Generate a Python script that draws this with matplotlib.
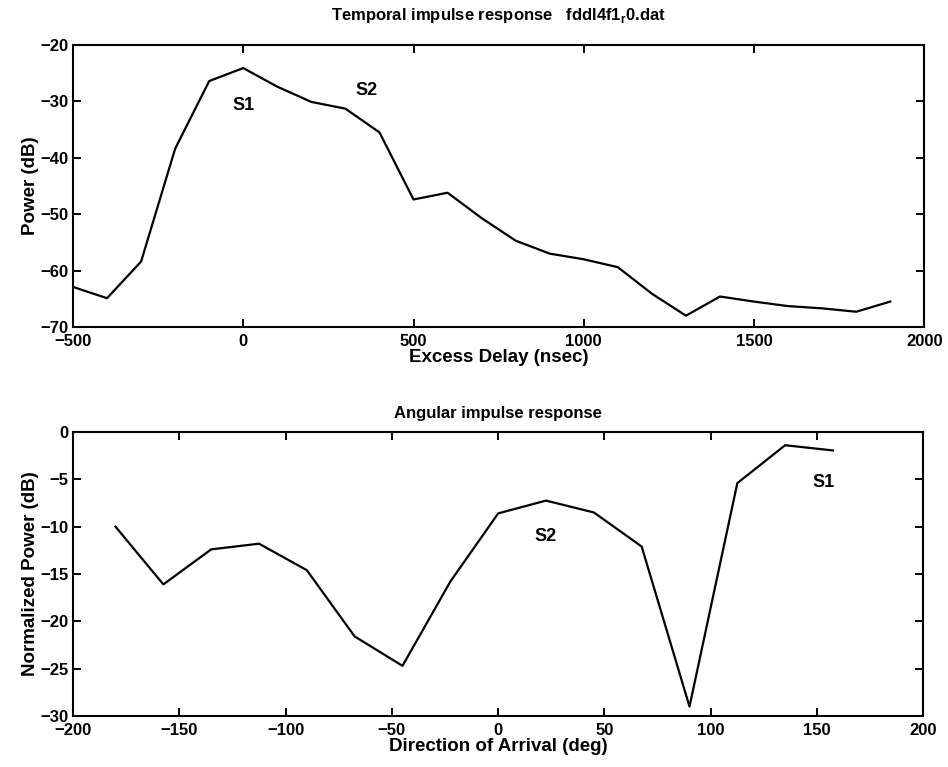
import numpy as np
import matplotlib
matplotlib.use('Agg')
import matplotlib.pyplot as plt

plt.rcParams['font.family'] = ['Liberation Sans', 'DejaVu Sans']
plt.rcParams['font.weight'] = 'bold'
plt.rcParams['font.size'] = 12

#### temporal impulse response
delay_ns = [-500, -400, -300, -200, -100, 0, 100, 200, 300, 400, 500, 600, 700,
            800, 900, 1000, 1100, 1200, 1300, 1400, 1500, 1600, 1700, 1800, 1900]
power_db = [-62.9, -64.9, -58.4, -38.4, -26.4, -24.1, -27.4, -30.1, -31.3, -35.5,
            -47.4, -46.2, -50.7, -54.7, -57.0, -58.0, -59.4, -64.1, -68.0, -64.6,
            -65.5, -66.3, -66.7, -67.3, -65.5]

#### angular impulse response
angle_deg = [-180, -157.5, -135, -112.5, -90, -67.5, -45, -22.5, 0, 22.5, 45,
             67.5, 90, 112.5, 135, 157.5]
norm_power_db = [-10.0, -16.1, -12.4, -11.8, -14.6, -21.6, -24.7, -15.8, -8.6,
                 -7.25, -8.5, -12.1, -29.0, -5.4, -1.4, -1.95]

top_xticks = [-500, 0, 500, 1000, 1500, 2000]
top_yticks = [-70, -60, -50, -40, -30, -20]
bot_xticks = [-200, -150, -100, -50, 0, 50, 100, 150, 200]
bot_yticks = [-30, -25, -20, -15, -10, -5, 0]

fig = plt.figure(figsize=(9.48, 7.67), dpi=100)
ax1 = fig.add_axes([0.077, 0.5737, 0.898, 0.3677])
ax2 = fig.add_axes([0.077, 0.0665, 0.897, 0.3703])


def style(ax):
    for s in ax.spines.values():
        s.set_linewidth(1.5)
    ax.tick_params(direction='in', length=6, width=1.4, top=True, right=True,
                   labelsize=12)
    ax.tick_params(axis='x', pad=5)
    ax.tick_params(axis='y', pad=3)


ax1.plot(delay_ns, power_db, 'k-', lw=1.6)
ax1.set_xlim(-500, 2000)
ax1.set_ylim(-70, -20)
ax1.set_xticks(top_xticks)
ax1.set_yticks(top_yticks)
ax1.set_xlabel('Excess Delay (nsec)', fontweight='bold', fontsize=13.5, labelpad=0)
ax1.set_ylabel('Power (dB)', fontweight='bold', fontsize=13.5, labelpad=1)
ax1.set_title(r'Temporal impulse response   fddl4f1$_{\mathregular{r}}$0.dat',
              fontweight='bold', fontsize=12, pad=18)
ax1.text(0, -30.8, 'S1', ha='center', va='center', fontweight='bold', fontsize=13)
ax1.text(363, -28.1, 'S2', ha='center', va='center', fontweight='bold', fontsize=13)
style(ax1)

ax2.plot(angle_deg, norm_power_db, 'k-', lw=1.6)
ax2.set_xlim(-200, 200)
ax2.set_ylim(-30, 0)
ax2.set_xticks(bot_xticks)
ax2.set_yticks(bot_yticks)
ax2.set_xlabel('Direction of Arrival (deg)', fontweight='bold', fontsize=13.5, labelpad=0)
ax2.set_ylabel('Normalized Power (dB)', fontweight='bold', fontsize=13.5, labelpad=1)
ax2.set_title('Angular impulse response', fontweight='bold', fontsize=12, pad=10)
ax2.text(22.5, -11, 'S2', ha='center', va='center', fontweight='bold', fontsize=13)
ax2.text(153, -5.3, 'S1', ha='center', va='center', fontweight='bold', fontsize=13)
style(ax2)

plt.savefig('out.png', dpi=100)
